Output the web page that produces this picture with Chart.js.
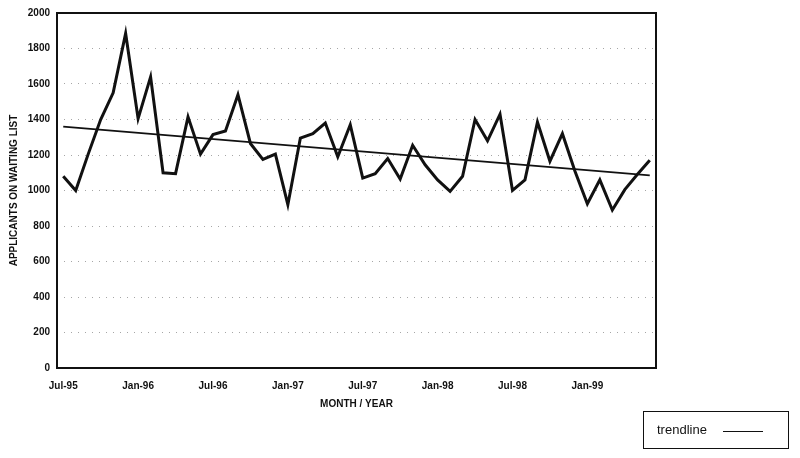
<!DOCTYPE html>
<html lang="en">
<head>
    <meta charset="UTF-8">
    <title>Applicants on waiting list</title>
    <script src="https://cdn.jsdelivr.net/npm/chart.js"></script>
    <style>
        body { margin: 0; background: #fff; }
        #wrap { position: relative; width: 800px; height: 458px; }
        #legend-box {
            position: absolute; left: 643px; top: 411px; width: 144px; height: 36px;
            border: 1.5px solid #111; font-family: "Liberation Sans", Arial, sans-serif;
            font-size: 13px; color: #111;
        }
        #legend-box span { position: absolute; left: 13px; top: 10px; }
        #legend-box i { position: absolute; left: 79px; top: 19px; width: 40px; border-top: 1.5px solid #111; }
    </style>
</head>
<body>
    <div id="wrap">
        <canvas id="waitChart" width="800" height="458"></canvas>
        <div id="legend-box"><span>trendline</span><i></i></div>
    </div>

    <script>
        // mois Jul-95 .. Jun-99
        const months = [
            'Jul-95','Aug-95','Sep-95','Oct-95','Nov-95','Dec-95',
            'Jan-96','Feb-96','Mar-96','Apr-96','May-96','Jun-96',
            'Jul-96','Aug-96','Sep-96','Oct-96','Nov-96','Dec-96',
            'Jan-97','Feb-97','Mar-97','Apr-97','May-97','Jun-97',
            'Jul-97','Aug-97','Sep-97','Oct-97','Nov-97','Dec-97',
            'Jan-98','Feb-98','Mar-98','Apr-98','May-98','Jun-98',
            'Jul-98','Aug-98','Sep-98','Oct-98','Nov-98','Dec-98',
            'Jan-99','Feb-99','Mar-99','Apr-99','May-99','Jun-99'
        ];
        const applicants = [
            1080, 1000, 1205, 1400, 1550, 1885,
            1405, 1640, 1100, 1095, 1415, 1205,
            1315, 1335, 1540, 1265, 1175, 1205,
            920, 1295, 1320, 1380, 1190, 1370,
            1070, 1095, 1180, 1065, 1255, 1145,
            1060, 995, 1080, 1400, 1280, 1430,
            1000, 1060, 1385, 1165, 1320, 1110,
            925, 1060, 890, 1005, 1090, 1170
        ];
        // trendline end points
        const trendStart = 1360;
        const trendEnd = 1085;
        const yTicks = [0, 200, 400, 600, 800, 1000, 1200, 1400, 1600, 1800, 2000];

        const trend = months.map((m, i) => i === 0 ? trendStart : (i === months.length - 1 ? trendEnd : null));

        const frame = {
            id: 'frame',
            afterDatasetsDraw(chart) {
                const a = chart.chartArea;
                const ctx = chart.ctx;
                ctx.save();
                ctx.strokeStyle = '#111';
                ctx.lineWidth = 2;
                ctx.strokeRect(a.left, a.top, a.right - a.left, a.bottom - a.top);
                ctx.restore();
            }
        };

        const font = { family: '"Liberation Sans", Arial, sans-serif', size: 10, weight: 'bold' };

        new Chart(document.getElementById('waitChart').getContext('2d'), {
            type: 'line',
            data: {
                labels: months,
                datasets: [{
                    label: 'applicants',
                    data: applicants,
                    borderColor: '#111',
                    borderWidth: 3,
                    pointRadius: 0,
                    tension: 0
                }, {
                    label: 'trendline',
                    data: trend,
                    borderColor: '#111',
                    borderWidth: 1.8,
                    pointRadius: 0,
                    spanGaps: true
                }]
            },
            options: {
                responsive: false,
                animation: false,
                layout: { padding: { left: 8, right: 144, top: 13, bottom: 48 } },
                plugins: { legend: { display: false }, tooltip: { enabled: false } },
                scales: {
                    x: {
                        offset: true,
                        grid: { display: false, offset: false },
                        border: { display: false },
                        ticks: {
                            color: '#111', font: font, autoSkip: false, maxRotation: 0, padding: 4,
                            callback: function(v, i) { return i % 6 === 0 ? months[i] : ''; }
                        },
                        title: { display: true, text: 'MONTH / YEAR', color: '#111', font: font, padding: { top: 4, bottom: 0 } },
                        afterFit(scale) { scale.height = 42; }
                    },
                    y: {
                        min: 0, max: 2000,
                        afterBuildTicks(scale) { scale.ticks = yTicks.map(v => ({ value: v })); },
                        grid: { color: 'rgba(0,0,0,0.35)', borderDash: [1, 6], drawTicks: false },
                        border: { display: false, dash: [1, 6] },
                        ticks: { color: '#111', font: font, padding: 7, callback: v => String(v) },
                        title: { display: true, text: 'APPLICANTS ON WAITING LIST', color: '#111', font: font, padding: 0 },
                        afterFit(scale) { scale.width = 49; }
                    }
                }
            },
            plugins: [frame]
        });
    </script>
</body>
</html>
